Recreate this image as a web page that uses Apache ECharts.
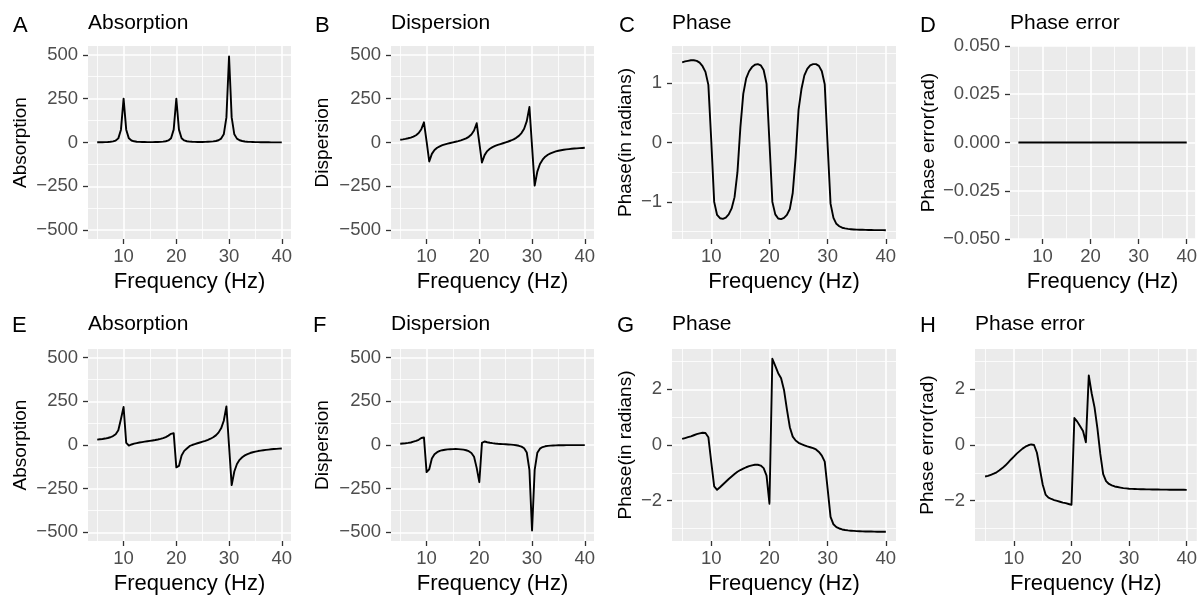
<!DOCTYPE html>
<html>
<head>
<meta charset="utf-8">
<script src="https://cdn.jsdelivr.net/npm/echarts@6/dist/echarts.min.js"></script>
<style>
  html, body { margin: 0; padding: 0; background: #ffffff; }
  #chart { width: 1200px; height: 597px; }
</style>
</head>
<body>
<div id="chart"></div>
<script>
// Frequency grid shared by every panel (Hz)
const freq = [
  5, 5.5, 6, 6.5, 7, 7.5, 8, 8.5, 9, 9.5,
  10, 10.5, 11, 11.5, 12, 12.5, 13, 13.5, 14, 14.5,
  15, 15.5, 16, 16.5, 17, 17.5, 18, 18.5, 19, 19.5,
  20, 20.5, 21, 21.5, 22, 22.5, 23, 23.5, 24, 24.5,
  25, 25.5, 26, 26.5, 27, 27.5, 28, 28.5, 29, 29.5,
  30, 30.5, 31, 31.5, 32, 32.5, 33, 33.5, 34, 34.5,
  35, 35.5, 36, 36.5, 37, 37.5, 38, 38.5, 39, 39.5,
  40
];

// Top row: in-phase spectrum
const absorptionTop = [
  1.2, 1.5, 1.8, 2.3, 3.0, 4.2, 6.5, 11.1, 23.5, 73,
  250, 73, 23.6, 11.3, 6.8, 4.6, 3.5, 2.9, 2.5, 2.3,
  2.3, 2.4, 2.6, 3.0, 3.6, 4.8, 7.0, 11.6, 23.9, 73.3,
  250, 73.4, 24, 11.8, 7.2, 5.1, 4.0, 3.4, 3.1, 3.1,
  3.2, 3.5, 4.0, 4.8, 6.2, 8.6, 13, 22.2, 46.8, 143,
  490, 143, 46.6, 22.1, 12.8, 8.4, 5.9, 4.4, 3.4, 2.7,
  2.2, 1.9, 1.6, 1.4, 1.2, 1.05, 0.93, 0.82, 0.75, 0.67,
  0.61
];
const dispersionTop = [
  16, 18, 20.5, 24, 28, 33.5, 41.5, 54, 76, 115,
  6, -108, -65, -43, -30, -21.7, -15.5, -10.7, -6.6, -2.9,
  0.7, 4.2, 8, 12.2, 17.3, 23.6, 32.4, 45.5, 68.2, 110,
  -2, -114, -72, -49, -35.7, -26.6, -19.7, -14.1, -9, -4.2,
  0.6, 5.7, 11.4, 18.2, 26.6, 37.8, 53.6, 78.3, 122, 202,
  -22, -246, -166, -122.7, -98.3, -81, -70, -62, -56, -51,
  -47, -44, -41.5, -39.3, -37.5, -36, -34.5, -33.2, -32, -31,
  -30
];
const phaseTop = [
  1.35, 1.365, 1.375, 1.385, 1.385, 1.375, 1.345, 1.285, 1.19, 0.97,
  0.03, -1.0, -1.22, -1.275, -1.285, -1.265, -1.21, -1.11, -0.92, -0.5,
  0.25, 0.82, 1.08, 1.2, 1.27, 1.31, 1.32, 1.3, 1.22, 0.99,
  0.0, -1.0, -1.21, -1.28, -1.29, -1.27, -1.22, -1.12, -0.85, -0.25,
  0.55, 0.9, 1.13, 1.24, 1.3, 1.32, 1.32, 1.29, 1.2, 0.98,
  -0.05, -1.03, -1.27, -1.37, -1.41, -1.435, -1.447, -1.455, -1.46, -1.464,
  -1.467, -1.469, -1.47, -1.472, -1.473, -1.474, -1.475, -1.475, -1.476, -1.476,
  -1.477
];
const phaseErrorTop = [
  0, 0, 0, 0, 0, 0, 0, 0, 0, 0,
  0, 0, 0, 0, 0, 0, 0, 0, 0, 0,
  0, 0, 0, 0, 0, 0, 0, 0, 0, 0,
  0, 0, 0, 0, 0, 0, 0, 0, 0, 0,
  0, 0, 0, 0, 0, 0, 0, 0, 0, 0,
  0, 0, 0, 0, 0, 0, 0, 0, 0, 0,
  0, 0, 0, 0, 0, 0, 0, 0, 0, 0,
  0
];

// Bottom row: spectrum with a frequency-dependent phase error
const absorptionBottom = [
  31, 32.7, 34.5, 36.9, 40, 44.4, 51, 62, 85, 149,
  218, 12, -3, 3, 7.5, 11, 14, 16.6, 19, 21.3,
  23.6, 26, 28.6, 31.6, 35.2, 39.7, 45.5, 53.8, 64, 68,
  -128, -120, -60, -33.6, -19.8, -7, 0, 5, 10, 14.4,
  19, 23.9, 29.4, 36, 44.2, 55.2, 70.9, 95.5, 139, 221,
  -5, -230, -152, -109, -85, -70, -59.5, -52, -46, -41.5,
  -37.8, -34.7, -32, -29.8, -27.9, -26.2, -24.7, -23.3, -22, -20.9,
  -19.8
];
const dispersionBottom = [
  7, 8.5, 10, 12, 14.5, 19, 23.5, 30, 40, 43,
  -155, -139, -77, -53, -41, -34, -29.8, -27, -25.1, -24,
  -23.4, -23.3, -23.8, -24.9, -26.8, -30.1, -35.6, -45.7, -67.6, -131,
  -213, 12, 20, 16, 13, 10.5, 8.5, 7, 6, 5,
  4, 3, 2, 0.5, -1.5, -4.5, -9, -18.5, -43, -142,
  -490, -142, -45, -21, -11.8, -7.5, -5.1, -3.7, -2.8, -2.2,
  -1.7, -1.4, -1.2, -1.0, -0.9, -0.8, -0.7, -0.6, -0.56, -0.52,
  -0.48
];
const phaseBottom = [
  0.22, 0.25, 0.28, 0.31, 0.35, 0.39, 0.42, 0.44, 0.43, 0.28,
  -0.62, -1.49, -1.61, -1.52, -1.42, -1.32, -1.22, -1.13, -1.04, -0.96,
  -0.9, -0.85, -0.8, -0.76, -0.73, -0.71, -0.71, -0.74, -0.83, -1.1,
  -2.11, 3.1, 2.84, 2.58, 2.4, 1.98, 1.28, 0.64, 0.3, 0.16,
  0.08, 0.03, -0.01, -0.05, -0.08, -0.11, -0.16, -0.25, -0.38, -0.6,
  -1.58, -2.58, -2.85, -2.95, -3.0, -3.035, -3.056, -3.07, -3.08, -3.088,
  -3.095, -3.1, -3.104, -3.107, -3.11, -3.111, -3.113, -3.115, -3.116, -3.117,
  -3.117
];
const phaseErrorBottom = [
  -1.13, -1.11, -1.07, -1.03, -0.98, -0.91, -0.83, -0.74, -0.63, -0.52,
  -0.42, -0.31, -0.22, -0.13, -0.06, -0.01, 0.02, 0.0, -0.28, -0.85,
  -1.42, -1.78, -1.89, -1.94, -1.98, -2.01, -2.04, -2.07, -2.09, -2.12,
  -2.15, 0.97, 0.84, 0.67, 0.5, 0.1, 2.5, 1.86, 1.35, 0.6,
  -0.32, -1.05, -1.3, -1.4, -1.45, -1.49, -1.51, -1.53, -1.55, -1.56,
  -1.57, -1.575, -1.58, -1.584, -1.588, -1.591, -1.594, -1.596, -1.598, -1.6,
  -1.601, -1.603, -1.604, -1.605, -1.606, -1.607, -1.608, -1.609, -1.61, -1.61,
  -1.611
];

// Tick positions
const freqTicks = [10, 20, 30, 40];
const freqMinorTicks = [5, 15, 25, 35];
const ampTicks = [-500, -250, 0, 250, 500];
const ampMinorTicks = [-375, -125, 125, 375];
const phaseTicks = [-1, 0, 1];
const phaseMinorTicks = [-1.5, -0.5, 0.5, 1.5];
const errTicks = [-0.05, -0.025, 0, 0.025, 0.05];
const errMinorTicks = [-0.0375, -0.0125, 0.0125, 0.0375];
const wideTicks = [-2, 0, 2];
const wideMinorTicks = [-3, -1, 1, 3];

const FONT = '"Liberation Sans", Arial, Helvetica, sans-serif';

// Panel layout (pixels) and axis setup
const panels = [
  { tag: 'A', title: 'Absorption', yName: 'Absorption', values: absorptionTop,
    left: 88, top: 46, width: 203, height: 193, yMin: -550, yMax: 550,
    ticks: ampTicks, minor: ampMinorTicks, nameGap: 58, digits: 0, tagX: 13, row: 0 },
  { tag: 'B', title: 'Dispersion', yName: 'Dispersion', values: dispersionTop,
    left: 391, top: 46, width: 203, height: 193, yMin: -550, yMax: 550,
    ticks: ampTicks, minor: ampMinorTicks, nameGap: 59, digits: 0, tagX: 315, row: 0 },
  { tag: 'C', title: 'Phase', yName: 'Phase(in radians)', values: phaseTop,
    left: 672, top: 46, width: 224, height: 193, yMin: -1.625, yMax: 1.625,
    ticks: phaseTicks, minor: phaseMinorTicks, nameGap: 37, digits: 0, tagX: 619, row: 0 },
  { tag: 'D', title: 'Phase error', yName: 'Phase error(rad)', values: phaseErrorTop,
    left: 1010, top: 46, width: 188, height: 193, yMin: -0.05, yMax: 0.05,
    ticks: errTicks, minor: errMinorTicks, nameGap: 72, digits: 3, tagX: 920, row: 0 },
  { tag: 'E', title: 'Absorption', yName: 'Absorption', values: absorptionBottom,
    left: 88, top: 349, width: 203, height: 192, yMin: -550, yMax: 550,
    ticks: ampTicks, minor: ampMinorTicks, nameGap: 58, digits: 0, tagX: 12, row: 1 },
  { tag: 'F', title: 'Dispersion', yName: 'Dispersion', values: dispersionBottom,
    left: 391, top: 349, width: 203, height: 192, yMin: -550, yMax: 550,
    ticks: ampTicks, minor: ampMinorTicks, nameGap: 59, digits: 0, tagX: 313, row: 1 },
  { tag: 'G', title: 'Phase', yName: 'Phase(in radians)', values: phaseBottom,
    left: 672, top: 349, width: 224, height: 192, yMin: -3.45, yMax: 3.45,
    ticks: wideTicks, minor: wideMinorTicks, nameGap: 37, digits: 0, tagX: 617, row: 1 },
  { tag: 'H', title: 'Phase error', yName: 'Phase error(rad)', values: phaseErrorBottom,
    left: 975, top: 349, width: 223, height: 192, yMin: -3.45, yMax: 3.45,
    ticks: wideTicks, minor: wideMinorTicks, nameGap: 38, digits: 0, tagX: 920, row: 1 }
];

const tagTop = [15, 315];
const titleTop = [13, 314];

function tickFormatter(digits) {
  return function (v) {
    const s = digits ? v.toFixed(digits) : String(Math.round(v * 1000) / 1000);
    return s.replace('-', '\u2212');
  };
}

const grids = [], xAxes = [], yAxes = [], minorX = [], minorY = [], series = [], titles = [];

panels.forEach(function (p, i) {
  grids.push({
    left: p.left, top: p.top, width: p.width, height: p.height,
    show: true, backgroundColor: '#EBEBEB', borderWidth: 0, containLabel: false
  });

  xAxes.push({
    gridIndex: i, type: 'value', min: 3.25, max: 41.75, position: 'bottom',
    name: 'Frequency (Hz)', nameLocation: 'middle', nameGap: 32,
    nameTextStyle: { fontSize: 22, color: '#000000', fontFamily: FONT },
    axisLine: { show: false, onZero: false },
    axisTick: { show: true, length: 5, customValues: freqTicks,
      lineStyle: { color: '#333333', width: 1.3 } },
    axisLabel: { customValues: freqTicks, color: '#4D4D4D', fontSize: 18.5,
      margin: 8, fontFamily: FONT },
    splitLine: { show: true, lineStyle: { color: '#FFFFFF', width: 1.6 } }
  });
  minorX.push({
    gridIndex: i, type: 'value', min: 3.25, max: 41.75, position: 'top',
    axisLine: { show: false, onZero: false },
    axisTick: { show: false, customValues: freqMinorTicks },
    axisLabel: { show: false, customValues: freqMinorTicks },
    splitLine: { show: true, lineStyle: { color: '#FFFFFF', width: 0.8 } }
  });

  yAxes.push({
    gridIndex: i, type: 'value', min: p.yMin, max: p.yMax, position: 'left',
    name: p.yName, nameLocation: 'middle', nameGap: p.nameGap,
    nameTextStyle: { fontSize: 19, color: '#000000', fontFamily: FONT },
    axisLine: { show: false, onZero: false },
    axisTick: { show: true, length: 5, customValues: p.ticks,
      lineStyle: { color: '#333333', width: 1.3 } },
    axisLabel: { customValues: p.ticks, color: '#4D4D4D', fontSize: 18.5,
      margin: 10, fontFamily: FONT, formatter: tickFormatter(p.digits) },
    splitLine: { show: true, lineStyle: { color: '#FFFFFF', width: 1.6 } }
  });
  minorY.push({
    gridIndex: i, type: 'value', min: p.yMin, max: p.yMax, position: 'right',
    axisLine: { show: false, onZero: false },
    axisTick: { show: false, customValues: p.minor },
    axisLabel: { show: false, customValues: p.minor },
    splitLine: { show: true, lineStyle: { color: '#FFFFFF', width: 0.8 } }
  });

  series.push({
    type: 'line', xAxisIndex: i, yAxisIndex: i,
    data: freq.map(function (f, k) { return [f, p.values[k]]; }),
    showSymbol: false, symbol: 'none', silent: true, z: 5,
    lineStyle: { color: '#000000', width: 1.9, join: 'round', cap: 'butt' }
  });

  titles.push({
    text: p.tag, left: p.tagX, top: tagTop[p.row], padding: 0,
    textStyle: { fontSize: 22, fontWeight: 'normal', color: '#000000', fontFamily: FONT }
  });
  titles.push({
    text: p.title, left: p.left, top: titleTop[p.row], padding: 0,
    textStyle: { fontSize: 21, fontWeight: 'normal', color: '#000000', fontFamily: FONT }
  });
});

const chart = echarts.init(document.getElementById('chart'), null, { renderer: 'canvas' });
chart.setOption({
  backgroundColor: '#FFFFFF',
  animation: false,
  title: titles,
  grid: grids,
  xAxis: xAxes.concat(minorX),
  yAxis: yAxes.concat(minorY),
  series: series
});
</script>
</body>
</html>
